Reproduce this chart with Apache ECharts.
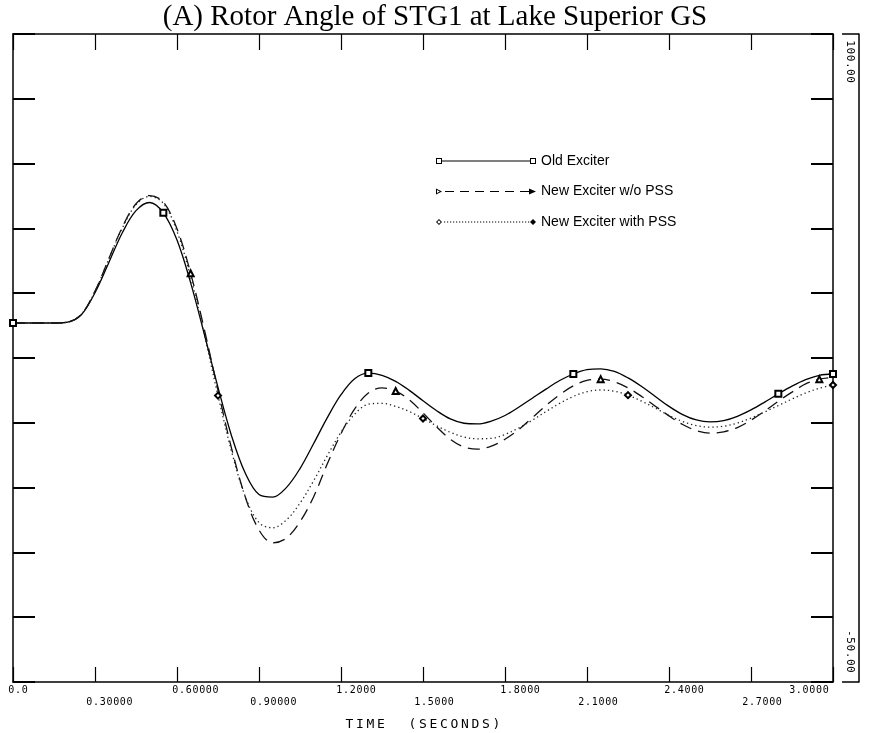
<!DOCTYPE html>
<html>
<head>
<meta charset="utf-8">
<script src="https://cdn.jsdelivr.net/npm/echarts@6/dist/echarts.min.js"></script>
<style>html,body{margin:0;padding:0;background:#fff}#main{width:870px;height:733px}</style>
</head>
<body>
<div id="main"></div>
<script>
// time axis (seconds)
var times = [0,0.05,0.1,0.15,0.2,0.25,0.3,0.35,0.4,0.45,
  0.5,0.55,0.6,0.65,0.7,0.75,0.8,0.85,0.9,0.95,
  1.0,1.05,1.1,1.15,1.2,1.25,1.3,1.35,1.4,1.45,
  1.5,1.55,1.6,1.65,1.7,1.75,1.8,1.85,1.9,1.95,
  2.0,2.05,2.1,2.15,2.2,2.25,2.3,2.35,2.4,2.45,
  2.5,2.55,2.6,2.65,2.7,2.75,2.8,2.85,2.9,2.95,3.0];

// rotor angle values
var oldExciter = [33.1,33.1,33.1,33.1,33.3,35.0,40.1,47.0,54.0,59.1,
  61.0,58.6,52.3,42.4,30.5,18.2,6.9,-1.7,-6.6,-7.2,
  -5.0,-0.6,5.2,11.2,16.5,20.2,21.5,21.0,19.6,17.5,
  15.1,12.8,10.9,9.9,9.75,10.4,11.7,13.6,15.7,17.8,
  19.8,21.3,22.3,22.5,21.9,20.4,18.4,16.1,13.8,11.9,
  10.65,10.2,10.5,11.5,13.0,14.8,16.7,18.5,20.0,21.0,21.3];
var newNoPss = [33.1,33.1,33.1,33.1,33.3,35.1,40.5,47.9,55.3,60.7,
  62.6,61.1,54.9,44.6,31.6,17.5,4.0,-7.2,-14.8,-17.8,
  -16.7,-12.9,-7.1,0.5,7.5,13.2,16.9,18.1,17.35,15.3,
  12.3,9.05,6.2,4.4,3.9,4.6,6.2,8.4,11.2,14.0,
  16.5,18.55,19.8,20.1,19.5,18.1,16.1,13.85,11.6,9.6,
  8.2,7.6,7.9,8.9,10.6,12.7,15.0,17.1,19.0,20.1,20.5];
var newWithPss = [33.1,33.1,33.1,33.1,33.3,35.1,40.4,47.8,55.1,60.5,
  62.4,60.8,54.3,43.7,30.4,16.3,3.3,-7.1,-13.1,-14.3,
  -12.5,-8.6,-3.4,2.4,7.8,12.0,14.3,14.5,13.8,12.6,
  11.0,9.3,7.8,6.7,6.3,6.4,7.3,8.8,10.6,12.6,
  14.5,16.1,17.2,17.6,17.3,16.4,15.0,13.4,11.7,10.3,
  9.35,9.0,9.2,9.95,11.1,12.5,14.0,15.5,16.9,18.0,18.75];

// times where the curve markers sit
var oldMarks = [0, 0.55, 1.3, 2.05, 2.8, 3.0];
var noPssMarks = [0.65, 1.4, 2.15, 2.95];
var withPssMarks = [0.75, 1.5, 2.25, 3.0];

var seriesNames = ['Old Exciter', 'New Exciter w/o PSS', 'New Exciter with PSS'];
var xTickLabels = ['0.0','0.30000','0.60000','0.90000','1.2000','1.5000','1.8000','2.1000','2.4000','2.7000','3.0000'];
var yEndLabels = ['-50.00', '100.00'];
var xName = 'TIME  (SECONDS)';
var titleText = '(A) Rotor Angle of STG1 at Lake Superior GS';

// spread characters out like the plotter font
function spaced(s, key) {
  return s.split('').map(function (c) { return '{' + key + '|' + c + '}'; }).join('');
}

function buildData(vals, marks, sym) {
  return times.map(function (t, i) {
    var hit = marks.some(function (m) { return Math.abs(m - t) < 1e-6; });
    if (hit) return { value: [t, vals[i]], symbol: sym, symbolSize: 6 };
    return { value: [t, vals[i]], symbol: 'none' };
  });
}

// legend icons: marker - line - marker
var oldIcon = 'path://M0,1h6v6h-6zM1,2v4h4v-4zM6,3.5h88v1h-88zM94,1h6v6h-6zM95,2v4h4v-4z';
var noPssIcon = 'path://M0,1L6,4L0,7zM1,2.6v2.8L3.8,4z';
[9, 24, 39, 54, 69].forEach(function (x) { noPssIcon += 'M' + x + ',3.5h9v1h-9z'; });
noPssIcon += 'M84,3.5h10v1h-10zM93,1L100,4L93,7z';
var withPssIcon = 'path://M0,4L3,1L6,4L3,7zM1.3,4L3,5.7L4.7,4L3,2.3z';
for (var x = 8; x < 93; x += 3) { withPssIcon += 'M' + x + ',3.5h1.2v1h-1.2z'; }
withPssIcon += 'M94,4L97,1L100,4L97,7z';

var monoRich = { c: { width: 6.7, align: 'center', fontFamily: 'DejaVu Sans Mono', fontSize: 10, color: '#000' } };
var blackLine = { color: '#000', width: 1.5 };

var myChart = echarts.init(document.getElementById('main'));

var option = {
  animation: false,
  backgroundColor: '#fff',
  title: {
    text: titleText,
    left: 'center',
    top: 3,
    padding: 0,
    textStyle: { fontFamily: 'Liberation Serif', fontSize: 29, fontWeight: 'normal', color: '#000' }
  },
  legend: {
    orient: 'vertical',
    left: 436,
    top: 154,
    padding: 0,
    itemWidth: 100,
    itemHeight: 8,
    itemGap: 16.5,
    textStyle: { fontFamily: 'Liberation Sans', fontSize: 14, color: '#000' },
    data: [
      { name: seriesNames[0], icon: oldIcon },
      { name: seriesNames[1], icon: noPssIcon },
      { name: seriesNames[2], icon: withPssIcon }
    ]
  },
  grid: { left: 13, right: 37, top: 34, bottom: 51, containLabel: false, outerBoundsMode: 'none' },
  xAxis: [
    {
      type: 'value', min: 0, max: 3, interval: 0.3, position: 'bottom',
      axisLine: { show: true, onZero: false, lineStyle: blackLine },
      axisTick: { show: true, inside: true, length: 15, lineStyle: { color: '#000', width: 1.2 } },
      splitLine: { show: false },
      axisLabel: {
        margin: 3, align: 'left', alignMaxLabel: 'right', padding: [0, 4, 0, -5],
        formatter: function (v) {
          var i = Math.round(v / 0.3);
          return i % 2 === 0 ? spaced(xTickLabels[i], 'c') : '';
        },
        rich: monoRich
      }
    },
    {
      type: 'value', min: 0, max: 3, interval: 0.3, position: 'bottom',
      axisLine: { show: false, onZero: false }, axisTick: { show: false }, splitLine: { show: false },
      name: spaced(xName, 'n'), nameLocation: 'middle', nameGap: 36,
      nameTextStyle: { rich: { n: { width: 10.5, align: 'center', fontFamily: 'DejaVu Sans Mono', fontSize: 13, color: '#000' } } },
      axisLabel: {
        margin: 15, align: 'left', padding: [0, 0, 0, -9],
        formatter: function (v) {
          var i = Math.round(v / 0.3);
          return i % 2 === 1 ? spaced(xTickLabels[i], 'c') : '';
        },
        rich: monoRich
      }
    },
    {
      type: 'value', min: 0, max: 3, interval: 0.3, position: 'top',
      axisLine: { show: true, onZero: false, lineStyle: blackLine },
      axisTick: { show: true, inside: true, length: 16, lineStyle: { color: '#000', width: 1.2 } },
      axisLabel: { show: false }, splitLine: { show: false }
    }
  ],
  yAxis: [
    {
      type: 'value', min: -50, max: 100, interval: 15, position: 'left',
      axisLine: { show: true, onZero: false, lineStyle: blackLine },
      axisTick: { show: true, inside: true, length: 22, lineStyle: { color: '#000', width: 2 } },
      axisLabel: { show: false }, splitLine: { show: false }
    },
    {
      type: 'value', min: -50, max: 100, interval: 15, position: 'right',
      axisLine: { show: true, onZero: false, lineStyle: blackLine },
      axisTick: { show: true, inside: true, length: 22, lineStyle: { color: '#000', width: 2 } },
      axisLabel: { show: false }, splitLine: { show: false }
    },
    {
      type: 'value', min: -50, max: 100, interval: 150, position: 'right', offset: 26,
      axisLine: { show: true, onZero: false, lineStyle: blackLine },
      axisTick: { show: true, inside: true, length: 17, lineStyle: { color: '#000', width: 1.5 } },
      splitLine: { show: false },
      axisLabel: {
        inside: true, rotate: -90, margin: 4, verticalAlign: 'top',
        alignMinLabel: 'right', alignMaxLabel: 'left', padding: [0, 9, 0, 6],
        formatter: function (v) {
          return spaced(v < 0 ? yEndLabels[0] : yEndLabels[1], 'r');
        },
        rich: { r: { width: 7.2, align: 'center', fontFamily: 'DejaVu Sans Mono', fontSize: 11, color: '#000' } }
      }
    }
  ],
  series: [
    {
      name: seriesNames[0], type: 'line', smooth: 0.35, symbol: 'none',
      color: '#000',
      lineStyle: { color: '#000', width: 1.3, type: 'solid' },
      itemStyle: { color: '#000', borderWidth: 1 },
      data: buildData(oldExciter, oldMarks, 'emptyRect')
    },
    {
      name: seriesNames[1], type: 'line', smooth: 0.35, symbol: 'none',
      color: '#000',
      lineStyle: { color: '#111', width: 1.3, type: [12, 7] },
      itemStyle: { color: '#000', borderWidth: 1 },
      data: buildData(newNoPss, noPssMarks, 'emptyTriangle')
    },
    {
      name: seriesNames[2], type: 'line', smooth: 0.35, symbol: 'none',
      color: '#000',
      lineStyle: { color: '#222', width: 1.3, type: [1.3, 3] },
      itemStyle: { color: '#000', borderWidth: 1 },
      data: buildData(newWithPss, withPssMarks, 'emptyDiamond')
    }
  ]
};

myChart.setOption(option);
</script>
</body>
</html>
